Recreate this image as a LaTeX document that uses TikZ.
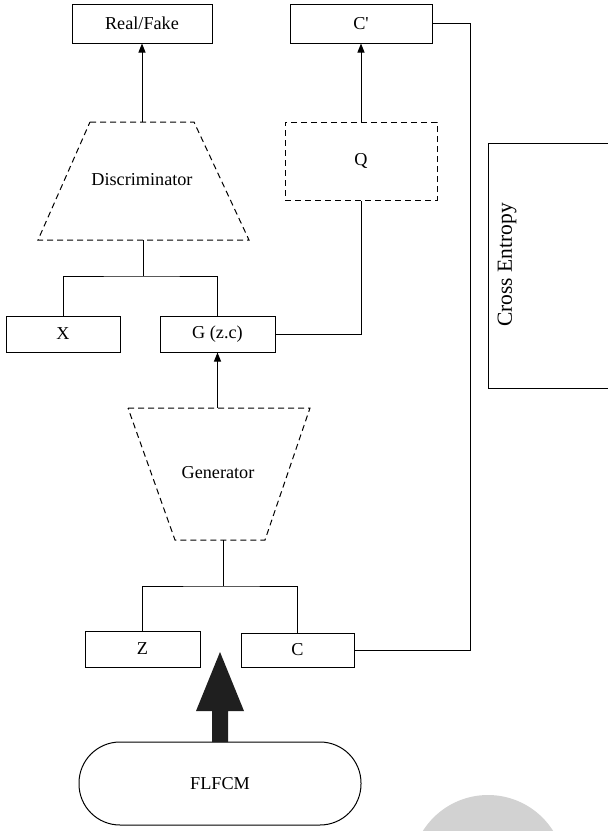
\documentclass[tikz,border=0pt]{standalone}
\usepackage{fontspec}
\setmainfont{Liberation Serif}
\usetikzlibrary{arrows.meta}
\begin{document}
\begin{tikzpicture}[x=1pt,y=-1pt,
  line width=1pt,
  every node/.style={font=\fontsize{18.2}{21}\selectfont, inner sep=0pt},
  box/.style={draw, minimum width=#1, minimum height=36pt},
  dbox/.style={draw, dashed, dash pattern=on 6pt off 4pt},
  dline/.style={dashed, dash pattern=on 6pt off 4pt},
  arr/.style={-{Triangle[width=7pt,length=9pt]}}
]
\useasboundingbox (0,0) rectangle (608,831);
% watermark curl
\fill[gray!35] (488,872) circle[radius=77];

% boxes
\node[box=140pt, minimum height=39pt] (rf) at (142,23.5) {Real/Fake};
\node[box=142pt, minimum height=39pt] (cp) at (361,23.5) {C\textquotesingle};
\node[dbox, minimum width=152pt, minimum height=78pt] (q) at (361,161) {Q};
\node[box=114pt] (x) at (63,334) {X};
\node[box=115pt] (g) at (217.5,334) {G (z.c)};
\node[box=115pt] (z) at (142.5,649) {Z};
\node[box=113pt, minimum height=34pt] (c) at (297.5,650) {C};
\node[draw, minimum width=282pt, minimum height=83pt, rounded corners=41pt] (fl) at (220,783.5) {FLFCM};
\node[draw, minimum width=127pt, minimum height=245pt, anchor=north west] (ce) at (488,143) {};
\node[rotate=90, font=\fontsize{21.5}{24}\selectfont] (cet) at (507,265) {Cross Entropy};

% discriminator
\draw[dline] (90,122) -- (194,122) -- (249,240) -- (38,240) -- cycle;
\node (disc) at (142,180) {Discriminator};
\coordinate (dtop) at (142,122);
\coordinate (dbot) at (143,240);
% generator
\draw[dline] (128,408) -- (310,408) -- (265,540) -- (175,540) -- cycle;
\node (gen) at (218,473) {Generator};
\coordinate (gtop) at (217.5,408);
\coordinate (gbot) at (223,540);

% connectors
\draw[arr] (dtop) -- (rf.south);
\draw[arr] (q.north) -- (cp.north |- cp.south);
\draw (dbot) -- (143,276) coordinate (dj);
\draw (x.north) |- (dj) -| (g.north);
\draw (g.east) -| (q.south);
\draw[arr] (gtop) -- (g.south);
\draw (gbot) -- (223,586) coordinate (gj);
\draw (z.north) |- (gj) -| (c.north);
\draw (cp.east) -- (470,23.5) coordinate (rr) -- (rr |- c.east) -- (c.east);

% big arrow
\fill[black!88] (212,742) -- (212,711) -- (196,711) -- (220,652) -- (244,711) -- (228,711) -- (228,742) -- cycle;
\end{tikzpicture}
\end{document}
